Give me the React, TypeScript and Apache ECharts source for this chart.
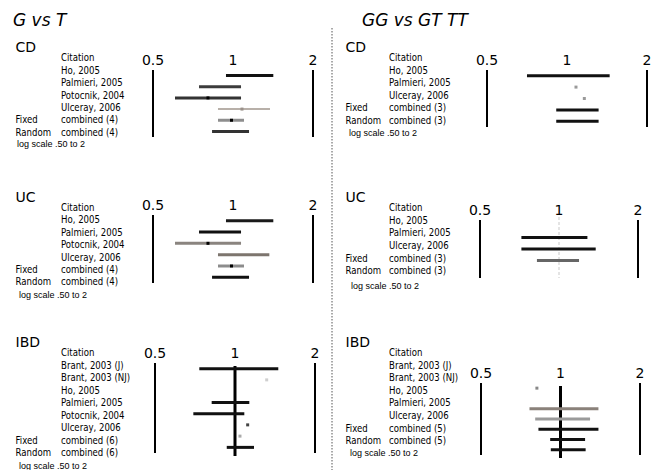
import React, { useEffect, useRef } from "react";
import * as echarts from "echarts";

const TICK_LABELS = ["0.5", "1", "2"];
const AXIS_MIN = 0.5;
const AXIS_MAX = 2;
const REF_VALUES = [0.5, 2];
const CENTER_VALUE = 1;
const SCALE_NOTE = "log scale .50 to 2";
const COLUMN_TITLES = ["G vs T", "GG vs GT TT"];

// G vs T — CD
const GT_CD_STUDIES = ["Ho, 2005", "Palmieri, 2005", "Potocnik, 2004", "Ulceray, 2006"];
const GT_CD_LOW = [0.941, 0.745, 0.605, 0.878, 0.878, 0.834];
const GT_CD_HIGH = [1.418, 1.072, 1.072, 1.378, 1.1, 1.149];
const GT_CD_EST = [null, null, 0.805, 1.081, 0.987, null];

// GG vs GT TT — CD
const GG_CD_STUDIES = ["Ho, 2005", "Palmieri, 2005", "Ulceray, 2006"];
const GG_CD_LOW = [0.707, null, null, 0.911, 0.911];
const GG_CD_HIGH = [1.447, null, null, 1.315, 1.315];
const GG_CD_EST = [null, 1.081, 1.162, null, null];

// G vs T — UC
const GT_UC_STUDIES = ["Ho, 2005", "Palmieri, 2005", "Potocnik, 2004", "Ulceray, 2006"];
const GT_UC_LOW = [0.941, 0.745, 0.605, 0.878, 0.878, 0.834];
const GT_UC_HIGH = [1.418, 1.072, 1.072, 1.37, 1.1, 1.149];
const GT_UC_EST = [null, null, 0.805, null, 0.987, null];

// GG vs GT TT — UC
const GG_UC_STUDIES = ["Ho, 2005", "Palmieri, 2005", "Ulceray, 2006"];
const GG_UC_LOW = [null, 0.719, 0.719, 0.824, null];
const GG_UC_HIGH = [null, 1.283, 1.38, 1.192, null];
const GG_UC_EST = [null, null, null, null, null];

// G vs T — IBD
const GT_IBD_STUDIES = ["Brant, 2003 (J)", "Brant, 2003 (NJ)", "Ho, 2005", "Palmieri, 2005", "Potocnik, 2004", "Ulceray, 2006"];
const GT_IBD_LOW = [0.734, null, null, 0.817, 0.697, null, null, 0.931];
const GT_IBD_HIGH = [1.455, null, null, 1.132, 1.084, null, null, 1.179];
const GT_IBD_EST = [null, 1.316, null, null, null, 1.116, 1.044, null];

// GG vs GT TT — IBD
const GG_IBD_STUDIES = ["Brant, 2003 (J)", "Brant, 2003 (NJ)", "Ho, 2005", "Palmieri, 2005", "Ulceray, 2006"];
const GG_IBD_LOW = [null, null, 0.763, 0.802, 0.825, 0.914, 0.919];
const GG_IBD_HIGH = [null, null, 1.392, 1.294, 1.392, 1.239, 1.245];
const GG_IBD_EST = [0.814, null, null, null, null, null, null];

// styles (bar colour, bar width, dot colour) per row
const GT_CD_STYLE = {
  bar: ["#111", "#3c3c3c", "#333", "#b8b0a9", "#8e8e8e", "#333"],
  width: [3, 3, 3, 2, 3, 3],
  dot: ["#000", "#000", "#000", "#9a918a", "#000", "#000"],
};
const GG_CD_STYLE = {
  bar: ["#111", "#111", "#111", "#111", "#111"],
  width: [3, 3, 3, 3, 3],
  dot: ["#000", "#9a9a9a", "#9a9a9a", "#000", "#000"],
};
const GT_UC_STYLE = {
  bar: ["#1a1a1a", "#111", "#8a847f", "#7d756e", "#8c8c8c", "#111"],
  width: [3, 3, 3, 3, 3, 3],
  dot: ["#000", "#000", "#000", "#000", "#000", "#000"],
};
const GG_UC_STYLE = {
  bar: ["#111", "#111", "#111", "#666", "#111"],
  width: [3, 3, 3, 3, 3],
  dot: ["#000", "#000", "#000", "#000", "#000"],
};
const GT_IBD_STYLE = {
  bar: ["#111", "#111", "#111", "#111", "#111", "#111", "#111", "#111"],
  width: [3, 3, 3, 3, 3, 3, 3, 3],
  dot: ["#000", "#cfcfcf", "#000", "#000", "#000", "#444", "#aaa", "#000"],
};
const GG_IBD_STYLE = {
  bar: ["#111", "#111", "#8a817a", "#9a9a9a", "#111", "#111", "#111"],
  width: [3, 3, 3, 3, 3, 3, 3],
  dot: ["#888", "#000", "#000", "#000", "#000", "#000", "#000"],
};

const PANELS = [
  { col: 0, group: "CD", studies: GT_CD_STUDIES, low: GT_CD_LOW, high: GT_CD_HIGH, est: GT_CD_EST, style: GT_CD_STYLE,
    headY: 46.7, firstY: 57.5, step: 12.4, noteY: 143.5, noteX: 17,
    grid: { left: 153, top: 70, width: 160, height: 67 }, center: "none" },
  { col: 1, group: "CD", studies: GG_CD_STUDIES, low: GG_CD_LOW, high: GG_CD_HIGH, est: GG_CD_EST, style: GG_CD_STYLE,
    headY: 46.7, firstY: 57, step: 12.6, noteY: 133, noteX: 349,
    grid: { left: 487, top: 70, width: 160, height: 57 }, center: "none" },
  { col: 0, group: "UC", studies: GT_UC_STUDIES, low: GT_UC_LOW, high: GT_UC_HIGH, est: GT_UC_EST, style: GT_UC_STYLE,
    headY: 197, firstY: 207, step: 12.4, noteY: 295, noteX: 19,
    grid: { left: 153, top: 215, width: 160, height: 68 }, center: "none" },
  { col: 1, group: "UC", studies: GG_UC_STUDIES, low: GG_UC_LOW, high: GG_UC_HIGH, est: GG_UC_EST, style: GG_UC_STYLE,
    headY: 197, firstY: 207.3, step: 12.6, noteY: 286, noteX: 351,
    grid: { left: 480, top: 220, width: 158, height: 58 }, center: "faint" },
  { col: 0, group: "IBD", studies: GT_IBD_STUDIES, low: GT_IBD_LOW, high: GT_IBD_HIGH, est: GT_IBD_EST, style: GT_IBD_STYLE,
    headY: 342, firstY: 352.5, step: 12.5, noteY: 466, noteX: 19,
    grid: { left: 155, top: 363, width: 160, height: 90 }, center: "solid" },
  { col: 1, group: "IBD", studies: GG_IBD_STUDIES, low: GG_IBD_LOW, high: GG_IBD_HIGH, est: GG_IBD_EST, style: GG_IBD_STYLE,
    headY: 342, firstY: 352, step: 12.6, noteY: 452.5, noteX: 350,
    grid: { left: 481, top: 383, width: 159, height: 72 }, center: "solid" },
];

const LABEL_FONT = "DejaVu Sans";

function labelText(text: string, x: number, y: number) {
  return {
    type: "text",
    x,
    y,
    scaleX: 0.78,
    silent: true,
    style: { text, fill: "#000", fontSize: 11, fontFamily: LABEL_FONT, align: "left", verticalAlign: "middle" },
  };
}

function buildOption() {
  const graphics: any[] = [];
  COLUMN_TITLES.forEach((t, c) => {
    graphics.push({
      type: "text",
      x: c === 0 ? 13 : 362,
      y: 20,
      silent: true,
      style: { text: t, fill: "#000", fontSize: 17, fontStyle: "italic", fontFamily: LABEL_FONT, verticalAlign: "middle" },
    });
  });
  graphics.push({
    type: "line",
    silent: true,
    shape: { x1: 332, y1: 28, x2: 332, y2: 470 },
    style: { stroke: "#555", lineWidth: 1, lineDash: [1.5, 1.5] },
  });

  const grids: any[] = [];
  const xAxes: any[] = [];
  const yAxes: any[] = [];
  const series: any[] = [];

  PANELS.forEach((p, gi) => {
    const headX = p.col === 0 ? 15.5 : 345.5;
    const labelX = p.col === 0 ? 61 : 389;
    graphics.push({
      type: "text",
      x: headX,
      y: p.headY,
      silent: true,
      style: { text: p.group, fill: "#000", fontSize: 14, fontFamily: LABEL_FONT, verticalAlign: "middle" },
    });
    const rows = ["Citation", ...p.studies, `combined (${p.studies.length})`, `combined (${p.studies.length})`];
    rows.forEach((r, i) => graphics.push(labelText(r, labelX, p.firstY + i * p.step)));
    const nR = rows.length;
    graphics.push(labelText("Fixed", headX, p.firstY + (nR - 2) * p.step));
    graphics.push(labelText("Random", headX, p.firstY + (nR - 1) * p.step));
    graphics.push({
      type: "text",
      x: p.noteX,
      y: p.noteY,
      silent: true,
      style: { text: SCALE_NOTE, fill: "#000", fontSize: 9, fontFamily: "Liberation Sans", verticalAlign: "middle" },
    });

    grids.push({ ...p.grid, containLabel: false });
    xAxes.push({
      type: "log",
      logBase: 2,
      min: AXIS_MIN,
      max: AXIS_MAX,
      gridIndex: gi,
      position: "top",
      axisLine: { show: false },
      axisTick: { show: false },
      splitLine: { show: false },
      axisLabel: {
        fontSize: 14,
        color: "#000",
        margin: 3,
        fontFamily: LABEL_FONT,
        formatter: (v: number) => TICK_LABELS[Math.round(Math.log2(v)) + 1] ?? "",
      },
    });
    const cats = [...p.studies, "Fixed", "Random"];
    yAxes.push({
      type: "category",
      gridIndex: gi,
      data: cats,
      inverse: true,
      boundaryGap: true,
      axisLine: { show: false },
      axisTick: { show: false },
      axisLabel: { show: false },
      splitLine: { show: false },
    });

    const st = p.style;
    series.push({
      type: "custom",
      xAxisIndex: gi,
      yAxisIndex: gi,
      silent: true,
      clip: false,
      encode: { x: [1, 2, 3], y: 0 },
      data: p.low.map((lo, i) => [i, lo == null ? "-" : lo, p.high[i] == null ? "-" : p.high[i], p.est[i] == null ? "-" : p.est[i]]),
      renderItem: (params: any, api: any) => {
        const i = params.dataIndex;
        const lo = api.value(1);
        const hi = api.value(2);
        const est = api.value(3);
        const children: any[] = [];
        if (i === 0) {
          const cs = params.coordSys;
          REF_VALUES.forEach((v) => {
            const px = api.coord([v, 0])[0];
            children.push({
              type: "line",
              shape: { x1: px, y1: cs.y, x2: px, y2: cs.y + cs.height },
              style: { stroke: "#000", lineWidth: 2 },
            });
          });
          if (p.center !== "none") {
            const px = api.coord([CENTER_VALUE, 0])[0];
            children.push({
              type: "line",
              shape: { x1: px, y1: cs.y + (p.center === "solid" ? 3 : -3), x2: px, y2: cs.y + cs.height + (p.center === "solid" ? 3 : 0) },
              style:
                p.center === "solid"
                  ? { stroke: "#000", lineWidth: 3 }
                  : { stroke: "#e4e4e4", lineWidth: 2, lineDash: [3, 2] },
            });
          }
        }
        if (Number.isFinite(lo) && Number.isFinite(hi)) {
          const a = api.coord([lo, i]);
          const b = api.coord([hi, i]);
          children.push({
            type: "line",
            shape: { x1: a[0], y1: a[1], x2: b[0], y2: b[1] },
            style: { stroke: st.bar[i], lineWidth: st.width[i] },
          });
        }
        if (Number.isFinite(est)) {
          const c = api.coord([est, i]);
          children.push({
            type: "rect",
            shape: { x: c[0] - 1.5, y: c[1] - 1.5, width: 3, height: 3 },
            style: { fill: st.dot[i] },
          });
        }
        return { type: "group", children };
      },
      z: 5,
    });
  });

  return {
    animation: false,
    backgroundColor: "#fff",
    grid: grids,
    xAxis: xAxes,
    yAxis: yAxes,
    series,
    graphic: { elements: graphics },
  };
}

export default function App() {
  const ref = useRef<HTMLDivElement>(null);
  useEffect(() => {
    if (!ref.current) return;
    const chart = echarts.init(ref.current, undefined, { renderer: "svg" });
    chart.setOption(buildOption() as any);
    return () => chart.dispose();
  }, []);
  return (
    <div
      ref={ref}
      style={{ position: "absolute", left: 0, top: 0, width: 656, height: 470, background: "#fff" }}
    />
  );
}
